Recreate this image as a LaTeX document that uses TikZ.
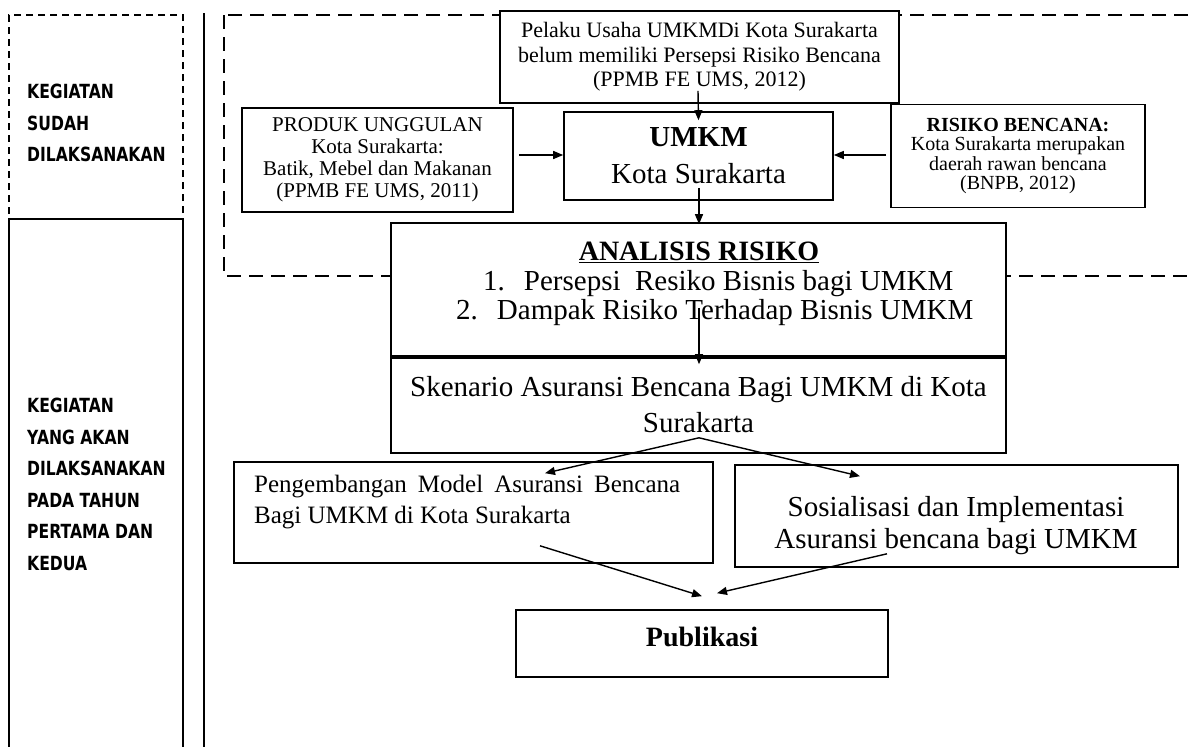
\documentclass[tikz,border=0pt]{standalone}
\usepackage{fontspec}
\setmainfont{Liberation Serif}
\newfontfamily\sidefont[FakeStretch=0.8]{DejaVu Sans}
\usetikzlibrary{arrows.meta}
\begin{document}
\begin{tikzpicture}[x=1pt,y=-1pt,
  box/.style={draw, line width=1.6pt, fill=white, inner sep=0pt},
  arr/.style={line width=1.4pt, -{Triangle[length=10pt,width=8pt]}},
  sidetext/.style={anchor=west, align=left, inner sep=0pt,
    font=\sidefont\bfseries\fontsize{19.5}{31.5}\selectfont},
  txt/.style={inner sep=0pt}]
\useasboundingbox (0,0) rectangle (1189,747);
\clip (0,0) rectangle (1189,747);

% left panel
\node[draw, line width=1.6pt, dash pattern=on 7pt off 5pt, inner sep=0pt,
  minimum width=174pt, minimum height=204pt] (donebox) at (96,117) {};
\node[draw, line width=1.6pt, inner sep=0pt,
  minimum width=174pt, minimum height=581pt] (planbox) at (96,509.5) {};
\node[sidetext] (donetext) at (27,123) {KEGIATAN\\SUDAH\\DILAKSANAKAN};
\node[sidetext] (plantext) at (27,484.5) {KEGIATAN\\YANG AKAN\\DILAKSANAKAN\\PADA TAHUN\\PERTAMA DAN\\KEDUA};

% separator line
\coordinate (vtop) at (204,13);
\coordinate (vbot) at (204,760);
\draw[line width=1.6pt] (vtop) -- (vbot);

% big dashed region
\draw[line width=1.8pt, dash pattern=on 14pt off 8pt] (224,15) rectangle (1215,276);

% boxes
\node[box, minimum width=399pt, minimum height=92pt, align=center,
  font=\fontsize{22}{24.5}\selectfont] (pelaku) at (699.5,57)
  {Pelaku Usaha UMKMDi Kota Surakarta\\belum memiliki Persepsi Risiko Bencana\\(PPMB FE UMS, 2012)};
\node[box, minimum width=271pt, minimum height=104pt, align=center,
  font=\fontsize{21}{22}\selectfont] (produk) at (377.5,160)
  {PRODUK UNGGULAN\\Kota Surakarta:\\Batik, Mebel dan Makanan\\(PPMB FE UMS, 2011)};
\node[box, minimum width=269pt, minimum height=88pt, align=center,
  font=\fontsize{29}{37}\selectfont] (umkm) at (698.5,156)
  {\textbf{UMKM}\\Kota Surakarta};
\node[box, minimum width=254pt, minimum height=103pt, align=center,
  font=\fontsize{20}{19.5}\selectfont] (risiko) at (1018,156)
  {\textbf{RISIKO BENCANA:}\\Kota Surakarta merupakan\\daerah rawan bencana\\(BNPB, 2012)};
\node[box, minimum width=615pt, minimum height=133pt] (analisis) at (698.5,289.5) {};
\node[box, minimum width=615pt, minimum height=97pt, align=center,
  font=\fontsize{29}{36}\selectfont] (skenario) at (698.5,404.5)
  {Skenario Asuransi Bencana Bagi UMKM di Kota\\Surakarta};
\draw[line width=4pt] (analisis.south west) -- (analisis.south east);
\node[box, minimum width=479pt, minimum height=101pt] (pengembangan) at (473.5,512.5) {};
\node[box, minimum width=443pt, minimum height=102pt] (sosialisasi) at (956.5,516) {};
\node[box, minimum width=372pt, minimum height=67pt] (publikasi) at (702,643.5) {};

% texts in boxes
\node[txt, font=\bfseries\fontsize{28}{30}\selectfont] (antitle) at (699,252) {\underline{ANALISIS RISIKO}};
\node[txt, anchor=west, font=\fontsize{29}{30}\selectfont] (anone) at (483,284)
  {1.\hspace{19pt}Persepsi\ \ Resiko Bisnis bagi UMKM};
\node[txt, anchor=west, font=\fontsize{29}{30}\selectfont] (antwo) at (456,313)
  {2.\hspace{19pt}Dampak Risiko Terhadap Bisnis UMKM};
\node[txt, anchor=west, align=left, font=\fontsize{25}{31}\selectfont] (pengtext) at (254,502.5)
  {\makebox[426pt][s]{Pengembangan Model Asuransi Bencana}\\Bagi UMKM di Kota Surakarta};
\node[txt, align=center, font=\fontsize{29}{32}\selectfont] (sostext) at (956,526)
  {Sosialisasi dan Implementasi\\Asuransi bencana bagi UMKM};
\node[txt, font=\bfseries\fontsize{28}{30}\selectfont] (pubtext) at (702,637) {Publikasi};

% connectors
\draw[arr] ([xshift=-1.5pt,yshift=13pt]pelaku.south) -- ([yshift=-9pt]umkm.north);
\draw[arr] ([xshift=5pt,yshift=5pt]produk.east) -- ([yshift=1pt]umkm.west);
\draw[arr] ([xshift=-4pt,yshift=1pt]risiko.west) -- ([yshift=1pt]umkm.east);
\draw[arr] ([xshift=0.5pt,yshift=13pt]umkm.south) -- ([xshift=0.5pt,yshift=-2pt]analisis.north);
\draw[arr] ([xshift=0.5pt,yshift=49pt]analisis.south) -- ([xshift=0.5pt,yshift=-9pt]skenario.north);
\coordinate (split) at ([xshift=0.5pt,yshift=16pt]skenario.south);
\draw[arr] (split) -- ([xshift=71.5pt,yshift=-12pt]pengembangan.north);
\draw[arr] (split) -- ([xshift=-96.5pt,yshift=-12pt]sosialisasi.north);
\draw[arr] ([xshift=66.5pt,yshift=18pt]pengembangan.south) -- ([xshift=0pt,yshift=13pt]publikasi.north);
\draw[arr] ([xshift=-69.5pt,yshift=14pt]sosialisasi.south) -- ([xshift=15pt,yshift=16pt]publikasi.north);
\end{tikzpicture}
\end{document}
